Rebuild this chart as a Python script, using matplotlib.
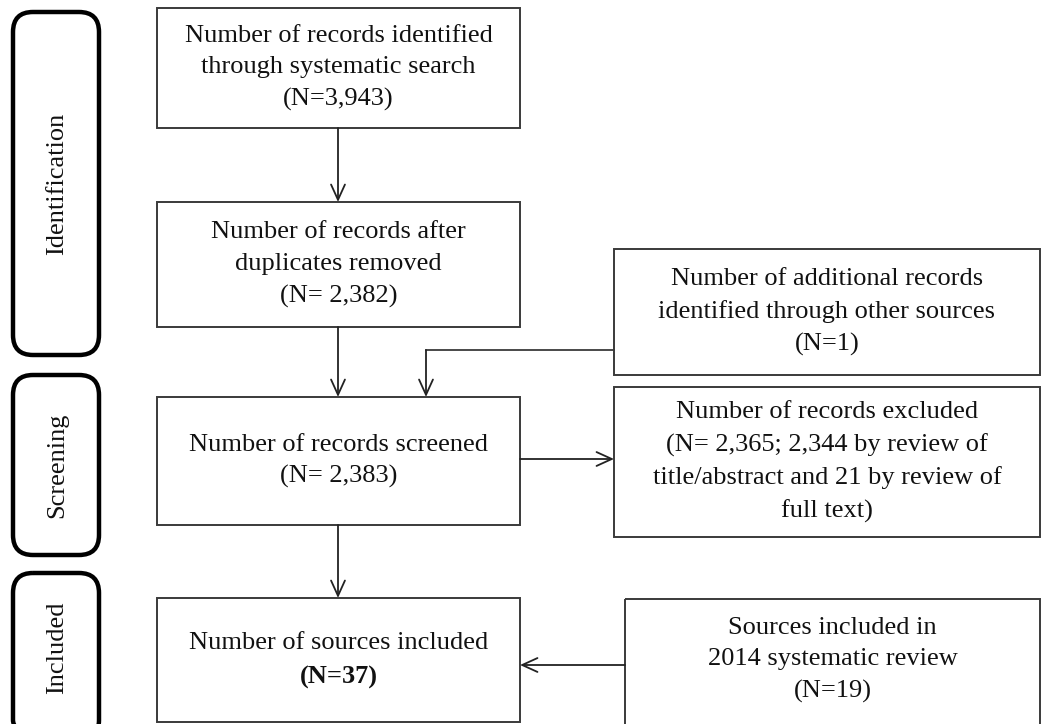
import matplotlib
matplotlib.use("Agg")
import matplotlib.pyplot as plt
from matplotlib.patches import Rectangle, FancyBboxPatch

plt.rcParams['font.family'] = ['Liberation Serif', 'DejaVu Serif']

# flow boxes: (x0, y0, x1, y1) in pixel coordinates (y down)
box_names = ['search', 'dedup', 'other', 'screened', 'excluded', 'included', 'review2014']
box_coords = [
    (157, 8, 520, 128),
    (157, 202, 520, 327),
    (614, 249, 1040, 375),
    (157, 397, 520, 525),
    (614, 387, 1040, 537),
    (157, 598, 520, 722),
    (625, 599, 1040, 730),
]
box_texts = [
    'Number of records identified\nthrough systematic search\n(N=3,943)',
    'Number of records after\nduplicates removed\n(N= 2,382)',
    'Number of additional records\nidentified through other sources\n(N=1)',
    'Number of records screened\n(N= 2,383)',
    'Number of records excluded\n(N= 2,365; 2,344 by review of\ntitle/abstract and 21 by review of\nfull text)',
    None,
    'Sources included in\n2014 systematic review\n(N=19)',
]

# stage labels
stage_labels = ['Identification', 'Screening', 'Included']
stage_coords = [(13, 12, 99, 355), (13, 375, 99, 555), (13, 573, 99, 740)]

# arrows: list of polyline points, arrowhead at the last point
arrow_paths = [
    [(338, 128), (338, 202)],
    [(338, 327), (338, 397)],
    [(338, 525), (338, 598)],
    [(614, 350), (426, 350), (426, 397)],
    [(520, 459), (614, 459)],
    [(625, 665), (520, 665)],
]

fig = plt.figure(figsize=(10.42, 7.24), dpi=100)
ax = fig.add_axes([0, 0, 1, 1])
ax.set_xlim(0, 1042)
ax.set_ylim(724, 0)
ax.axis('off')

fs = 19
ls = 1.55
for (x0, y0, x1, y1), txt in zip(box_coords, box_texts):
    ax.add_patch(Rectangle((x0, y0), x1 - x0, y1 - y0, fill=False,
                           edgecolor='#3a3a3a', linewidth=1.4))
    if txt is not None:
        yc = (y0 + y1) / 2 if y1 <= 724 else 660
        ax.text((x0 + x1) / 2, yc, txt, ha='center', va='center',
                fontsize=fs, linespacing=ls, color='#111111')

# included box text with bold count
x0, y0, x1, y1 = box_coords[5]
ax.text((x0 + x1) / 2, 643, 'Number of sources included', ha='center', va='center',
        fontsize=fs, color='#111111')
ax.text((x0 + x1) / 2, 677, '(N=37)', ha='center', va='center',
        fontsize=fs, fontweight='bold', color='#111111')

for (x0, y0, x1, y1), lab in zip(stage_coords, stage_labels):
    ax.add_patch(FancyBboxPatch((x0 + 16, y0 + 16), x1 - x0 - 32, y1 - y0 - 32,
                                boxstyle='round,pad=16,rounding_size=20',
                                fill=False, edgecolor='black', linewidth=3.2))
    yb = min(y1, 724)
    yc = (y0 + yb) / 2 if y1 <= 724 else 648
    ax.text((x0 + x1) / 2 + 1, yc, lab, rotation=90, ha='center', va='center',
            fontsize=fs, color='#111111')

for pts in arrow_paths:
    xs = [p[0] for p in pts]
    ys = [p[1] for p in pts]
    if len(pts) > 2:
        ax.plot(xs[:-1], ys[:-1], color='#3a3a3a', linewidth=1.3)
    ax.annotate('', xy=pts[-1], xytext=pts[-2],
                arrowprops=dict(arrowstyle='->,head_length=1.1,head_width=0.5',
                                color='#222222', linewidth=1.3, shrinkA=0, shrinkB=0))

fig.savefig('out.png', dpi=100)
